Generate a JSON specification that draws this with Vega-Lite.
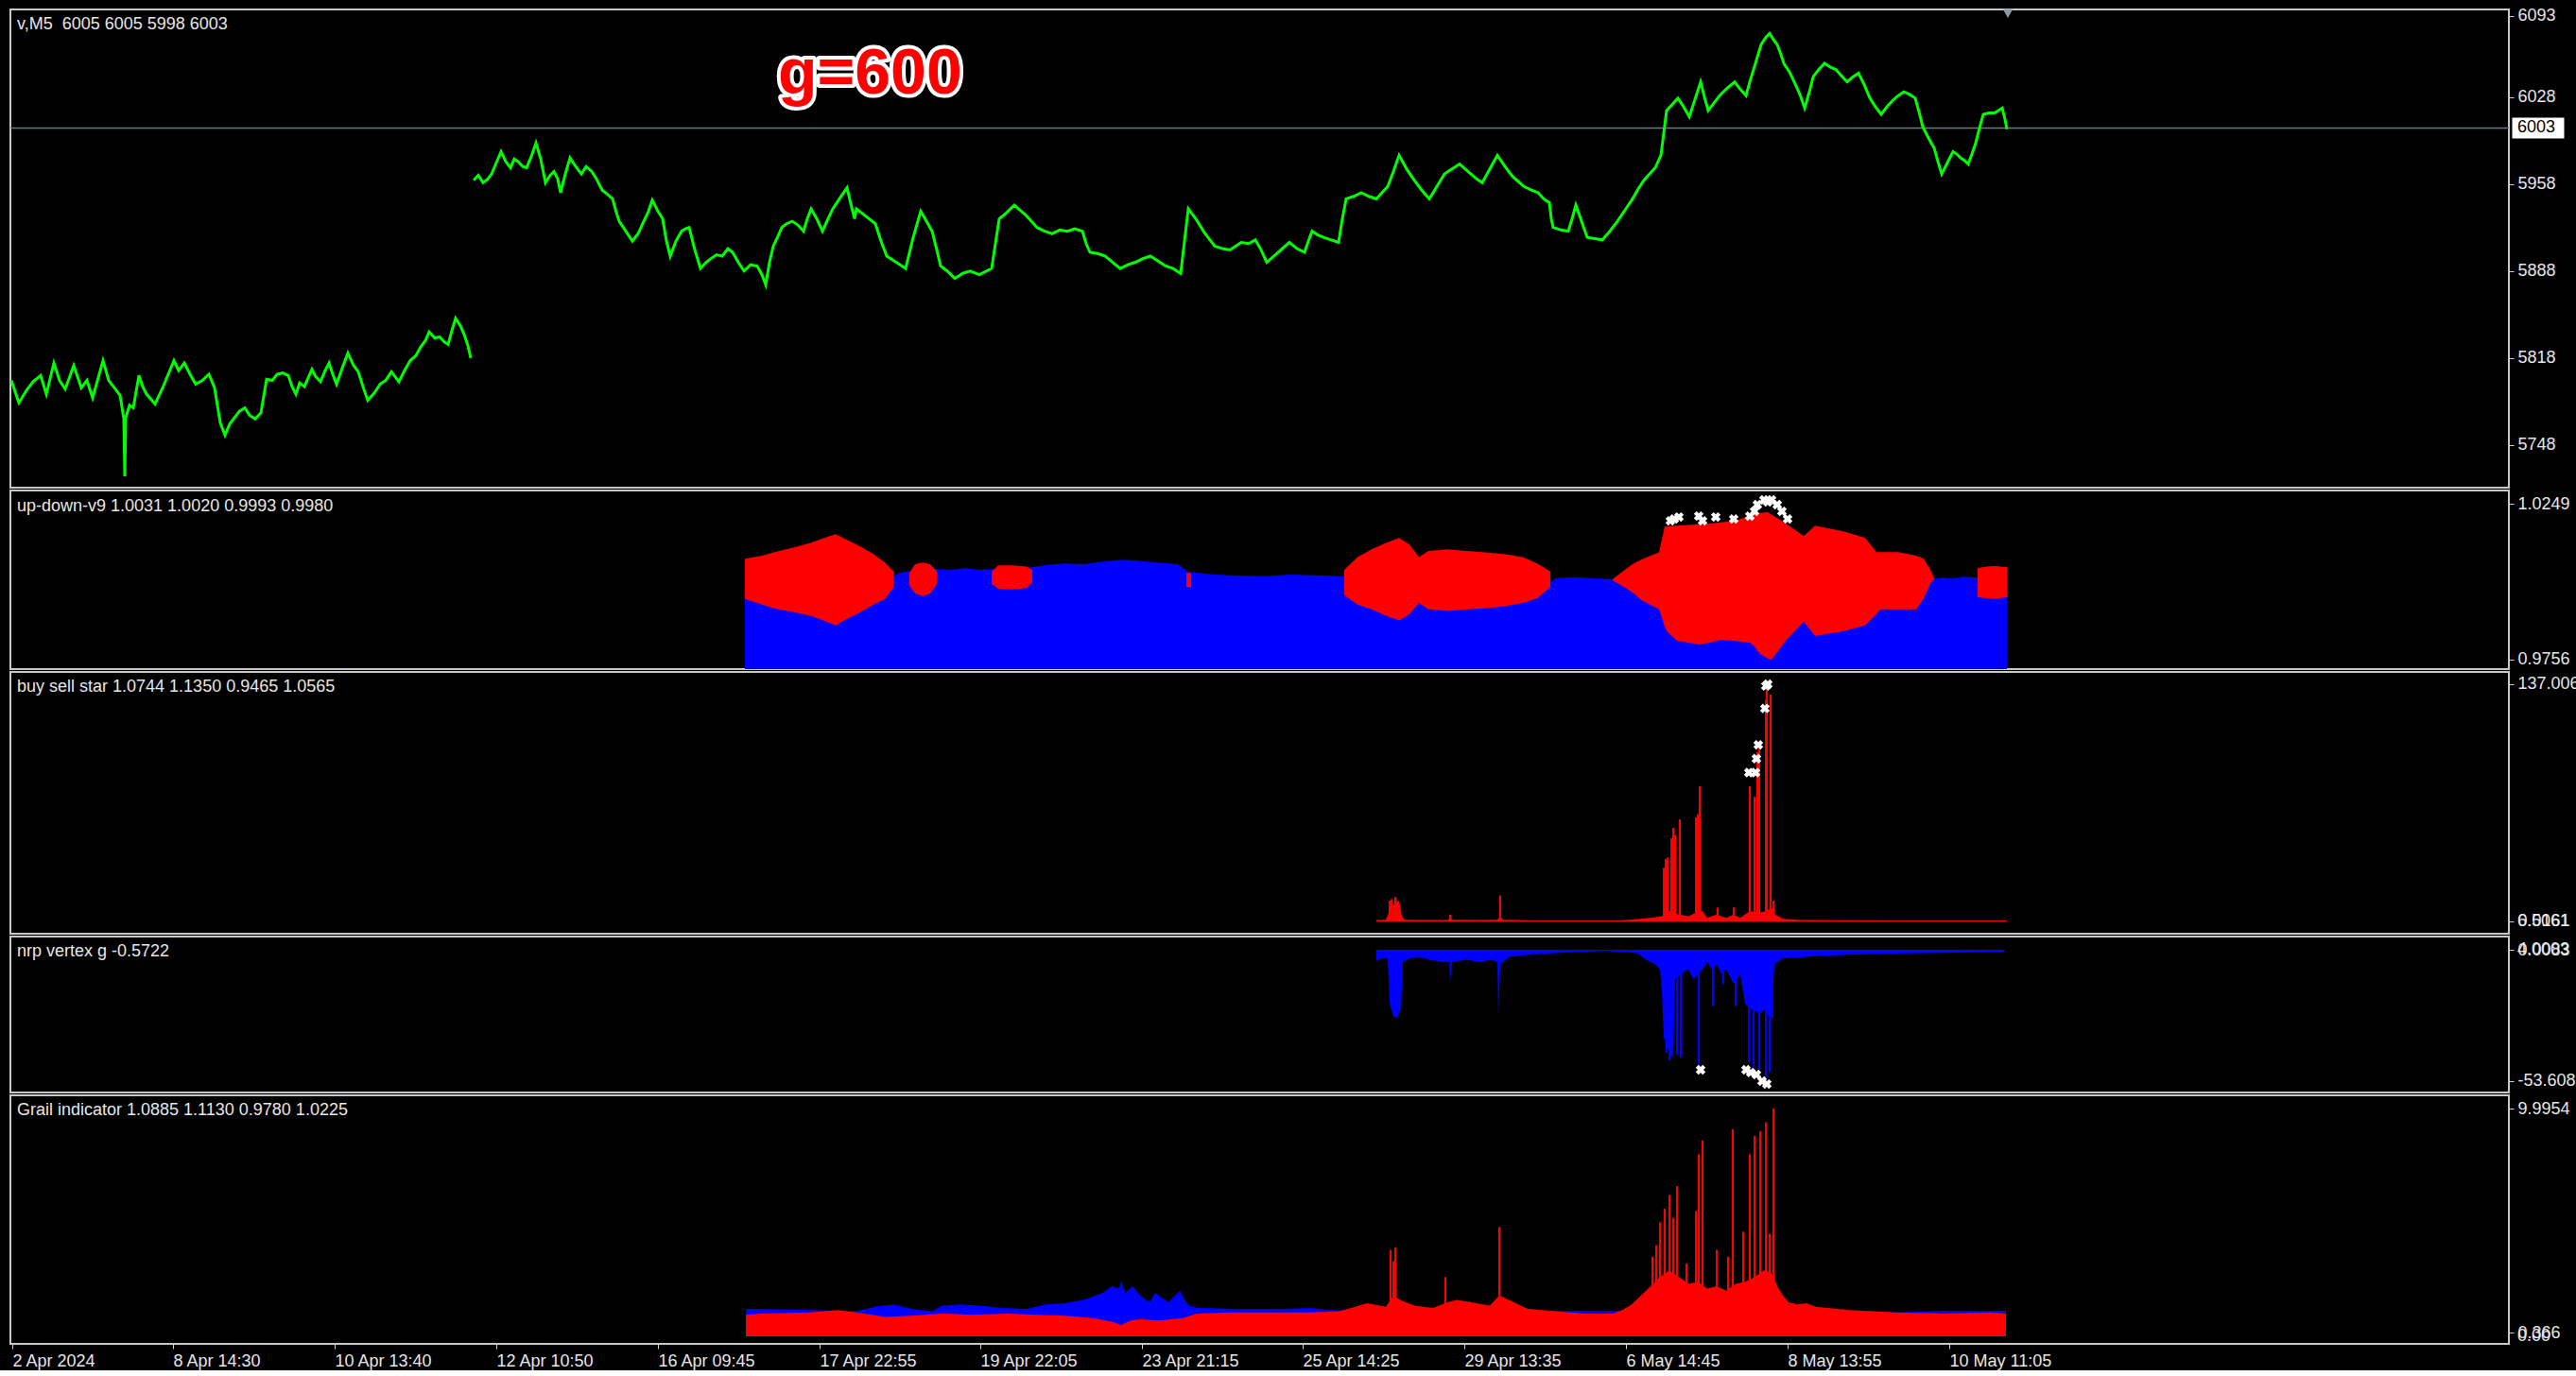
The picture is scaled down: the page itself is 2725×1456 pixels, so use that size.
{
"$schema": "https://vega.github.io/schema/vega-lite/v6.json",
"background": "#000000",
"padding": {"left": 5, "top": 6, "right": 0, "bottom": 0},
"spacing": 3,
"bounds": "flush",
"config": {
  "view": {"stroke": "#c8c8c8", "strokeWidth": 2, "fill": "#000000"},
  "axis": {"labelFont": "Liberation Sans", "labelFontSize": 18, "labelColor": "#e6e6e6", "tickColor": "#d0d0d0", "domain": false, "grid": false},
  "text": {"font": "Liberation Sans", "fontSize": 18, "align": "left", "baseline": "middle", "color": "#e6e6e6"}
},
"datasets": {
"price": [
{"t":6,"v":5800,"s":1},{"t":14,"v":5782,"s":1},{"t":22,"v":5792,"s":1},{"t":29,"v":5799,"s":1},{"t":37,"v":5804,"s":1},{"t":43,"v":5789,"s":1},{"t":51,"v":5814,"s":1},{"t":57,"v":5800,"s":1},{"t":63,"v":5793,"s":1},{"t":72,"v":5812,"s":1},{"t":80,"v":5794,"s":1},{"t":86,"v":5800,"s":1},{"t":92,"v":5786,"s":1},{"t":103,"v":5816,"s":1},{"t":109,"v":5800,"s":1},{"t":115,"v":5794,"s":1},{"t":121,"v":5788,"s":1},{"t":125,"v":5769,"s":1},{"t":126,"v":5723,"s":1},{"t":127,"v":5770,"s":1},{"t":131,"v":5780,"s":1},{"t":135,"v":5778,"s":1},{"t":141,"v":5804,"s":1},{"t":145,"v":5795,"s":1},{"t":149,"v":5789,"s":1},{"t":158,"v":5781,"s":1},{"t":166,"v":5794,"s":1},{"t":172,"v":5805,"s":1},{"t":178,"v":5816,"s":1},{"t":183,"v":5808,"s":1},{"t":189,"v":5814,"s":1},{"t":195,"v":5805,"s":1},{"t":201,"v":5797,"s":1},{"t":208,"v":5800,"s":1},{"t":215,"v":5805,"s":1},{"t":221,"v":5794,"s":1},{"t":227,"v":5766,"s":1},{"t":232,"v":5756,"s":1},{"t":237,"v":5765,"s":1},{"t":241,"v":5769,"s":1},{"t":247,"v":5775,"s":1},{"t":253,"v":5778,"s":1},{"t":258,"v":5772,"s":1},{"t":264,"v":5769,"s":1},{"t":270,"v":5774,"s":1},{"t":276,"v":5801,"s":1},{"t":282,"v":5800,"s":1},{"t":287,"v":5805,"s":1},{"t":293,"v":5806,"s":1},{"t":299,"v":5804,"s":1},{"t":303,"v":5795,"s":1},{"t":307,"v":5789,"s":1},{"t":311,"v":5798,"s":1},{"t":316,"v":5795,"s":1},{"t":320,"v":5802,"s":1},{"t":324,"v":5809,"s":1},{"t":328,"v":5803,"s":1},{"t":333,"v":5799,"s":1},{"t":338,"v":5808,"s":1},{"t":342,"v":5814,"s":1},{"t":346,"v":5805,"s":1},{"t":350,"v":5797,"s":1},{"t":356,"v":5810,"s":1},{"t":362,"v":5822,"s":1},{"t":368,"v":5812,"s":1},{"t":373,"v":5807,"s":1},{"t":378,"v":5795,"s":1},{"t":383,"v":5784,"s":1},{"t":390,"v":5790,"s":1},{"t":396,"v":5797,"s":1},{"t":402,"v":5800,"s":1},{"t":408,"v":5807,"s":1},{"t":412,"v":5803,"s":1},{"t":416,"v":5799,"s":1},{"t":422,"v":5808,"s":1},{"t":428,"v":5816,"s":1},{"t":434,"v":5820,"s":1},{"t":439,"v":5827,"s":1},{"t":444,"v":5832,"s":1},{"t":448,"v":5839,"s":1},{"t":454,"v":5834,"s":1},{"t":459,"v":5835,"s":1},{"t":464,"v":5831,"s":1},{"t":468,"v":5829,"s":1},{"t":472,"v":5840,"s":1},{"t":476,"v":5850,"s":1},{"t":481,"v":5844,"s":1},{"t":485,"v":5837,"s":1},{"t":489,"v":5828,"s":1},{"t":492,"v":5818,"s":1},
{"t":495,"v":5961,"s":2},{"t":500,"v":5965,"s":2},{"t":505,"v":5959,"s":2},{"t":510,"v":5962,"s":2},{"t":514,"v":5966,"s":2},{"t":519,"v":5975,"s":2},{"t":524,"v":5984,"s":2},{"t":529,"v":5976,"s":2},{"t":534,"v":5971,"s":2},{"t":538,"v":5978,"s":2},{"t":542,"v":5976,"s":2},{"t":547,"v":5972,"s":2},{"t":551,"v":5971,"s":2},{"t":556,"v":5980,"s":2},{"t":561,"v":5991,"s":2},{"t":566,"v":5978,"s":2},{"t":571,"v":5959,"s":2},{"t":576,"v":5965,"s":2},{"t":580,"v":5968,"s":2},{"t":584,"v":5962,"s":2},{"t":587,"v":5951,"s":2},{"t":592,"v":5966,"s":2},{"t":597,"v":5979,"s":2},{"t":603,"v":5972,"s":2},{"t":609,"v":5966,"s":2},{"t":614,"v":5972,"s":2},{"t":620,"v":5968,"s":2},{"t":625,"v":5962,"s":2},{"t":631,"v":5953,"s":2},{"t":636,"v":5950,"s":2},{"t":642,"v":5946,"s":2},{"t":646,"v":5935,"s":2},{"t":649,"v":5928,"s":2},{"t":656,"v":5920,"s":2},{"t":663,"v":5912,"s":2},{"t":669,"v":5918,"s":2},{"t":675,"v":5928,"s":2},{"t":680,"v":5936,"s":2},{"t":684,"v":5945,"s":2},{"t":690,"v":5936,"s":2},{"t":695,"v":5930,"s":2},{"t":699,"v":5912,"s":2},{"t":703,"v":5900,"s":2},{"t":709,"v":5912,"s":2},{"t":715,"v":5920,"s":2},{"t":719,"v":5922,"s":2},{"t":723,"v":5923,"s":2},{"t":729,"v":5905,"s":2},{"t":735,"v":5890,"s":2},{"t":741,"v":5895,"s":2},{"t":746,"v":5898,"s":2},{"t":752,"v":5901,"s":2},{"t":758,"v":5900,"s":2},{"t":764,"v":5906,"s":2},{"t":769,"v":5903,"s":2},{"t":775,"v":5895,"s":2},{"t":781,"v":5888,"s":2},{"t":788,"v":5893,"s":2},{"t":795,"v":5892,"s":2},{"t":800,"v":5885,"s":2},{"t":804,"v":5877,"s":2},{"t":808,"v":5895,"s":2},{"t":812,"v":5908,"s":2},{"t":817,"v":5916,"s":2},{"t":821,"v":5923,"s":2},{"t":826,"v":5926,"s":2},{"t":832,"v":5928,"s":2},{"t":838,"v":5925,"s":2},{"t":844,"v":5920,"s":2},{"t":848,"v":5930,"s":2},{"t":852,"v":5938,"s":2},{"t":858,"v":5930,"s":2},{"t":864,"v":5920,"s":2},{"t":870,"v":5930,"s":2},{"t":875,"v":5938,"s":2},{"t":882,"v":5946,"s":2},{"t":890,"v":5955,"s":2},{"t":894,"v":5942,"s":2},{"t":898,"v":5930,"s":2},{"t":900,"v":5938,"s":2},{"t":910,"v":5932,"s":2},{"t":920,"v":5926,"s":2},{"t":926,"v":5912,"s":2},{"t":932,"v":5900,"s":2},{"t":942,"v":5895,"s":2},{"t":952,"v":5890,"s":2},{"t":960,"v":5915,"s":2},{"t":968,"v":5936,"s":2},{"t":974,"v":5928,"s":2},{"t":980,"v":5920,"s":2},{"t":985,"v":5905,"s":2},{"t":989,"v":5892,"s":2},{"t":996,"v":5888,"s":2},{"t":1004,"v":5882,"s":2},{"t":1012,"v":5886,"s":2},{"t":1020,"v":5888,"s":2},{"t":1030,"v":5885,"s":2},{"t":1043,"v":5890,"s":2},{"t":1047,"v":5910,"s":2},{"t":1051,"v":5930,"s":2},{"t":1059,"v":5935,"s":2},{"t":1067,"v":5941,"s":2},{"t":1073,"v":5937,"s":2},{"t":1079,"v":5933,"s":2},{"t":1085,"v":5928,"s":2},{"t":1091,"v":5923,"s":2},{"t":1099,"v":5920,"s":2},{"t":1107,"v":5918,"s":2},{"t":1115,"v":5921,"s":2},{"t":1123,"v":5920,"s":2},{"t":1131,"v":5922,"s":2},{"t":1139,"v":5920,"s":2},{"t":1143,"v":5910,"s":2},{"t":1147,"v":5903,"s":2},{"t":1155,"v":5902,"s":2},{"t":1163,"v":5900,"s":2},{"t":1171,"v":5895,"s":2},{"t":1179,"v":5890,"s":2},{"t":1187,"v":5893,"s":2},{"t":1195,"v":5895,"s":2},{"t":1203,"v":5898,"s":2},{"t":1211,"v":5900,"s":2},{"t":1219,"v":5896,"s":2},{"t":1227,"v":5892,"s":2},{"t":1235,"v":5890,"s":2},{"t":1243,"v":5886,"s":2},{"t":1247,"v":5912,"s":2},{"t":1251,"v":5938,"s":2},{"t":1259,"v":5930,"s":2},{"t":1267,"v":5920,"s":2},{"t":1273,"v":5914,"s":2},{"t":1279,"v":5908,"s":2},{"t":1287,"v":5906,"s":2},{"t":1295,"v":5905,"s":2},{"t":1301,"v":5908,"s":2},{"t":1307,"v":5911,"s":2},{"t":1315,"v":5910,"s":2},{"t":1322,"v":5913,"s":2},{"t":1328,"v":5905,"s":2},{"t":1334,"v":5895,"s":2},{"t":1340,"v":5899,"s":2},{"t":1346,"v":5903,"s":2},{"t":1352,"v":5907,"s":2},{"t":1358,"v":5911,"s":2},{"t":1366,"v":5906,"s":2},{"t":1374,"v":5903,"s":2},{"t":1378,"v":5912,"s":2},{"t":1382,"v":5920,"s":2},{"t":1388,"v":5917,"s":2},{"t":1394,"v":5915,"s":2},{"t":1402,"v":5913,"s":2},{"t":1410,"v":5911,"s":2},{"t":1414,"v":5930,"s":2},{"t":1418,"v":5946,"s":2},{"t":1426,"v":5948,"s":2},{"t":1434,"v":5951,"s":2},{"t":1442,"v":5948,"s":2},{"t":1450,"v":5946,"s":2},{"t":1456,"v":5951,"s":2},{"t":1462,"v":5956,"s":2},{"t":1468,"v":5968,"s":2},{"t":1474,"v":5981,"s":2},{"t":1482,"v":5970,"s":2},{"t":1490,"v":5961,"s":2},{"t":1498,"v":5953,"s":2},{"t":1506,"v":5946,"s":2},{"t":1514,"v":5956,"s":2},{"t":1522,"v":5966,"s":2},{"t":1530,"v":5970,"s":2},{"t":1538,"v":5974,"s":2},{"t":1544,"v":5970,"s":2},{"t":1550,"v":5966,"s":2},{"t":1556,"v":5962,"s":2},{"t":1562,"v":5959,"s":2},{"t":1570,"v":5970,"s":2},{"t":1578,"v":5981,"s":2},{"t":1586,"v":5972,"s":2},{"t":1594,"v":5964,"s":2},{"t":1600,"v":5960,"s":2},{"t":1606,"v":5956,"s":2},{"t":1614,"v":5953,"s":2},{"t":1621,"v":5951,"s":2},{"t":1627,"v":5946,"s":2},{"t":1633,"v":5943,"s":2},{"t":1635,"v":5930,"s":2},{"t":1637,"v":5923,"s":2},{"t":1645,"v":5921,"s":2},{"t":1653,"v":5920,"s":2},{"t":1657,"v":5930,"s":2},{"t":1661,"v":5941,"s":2},{"t":1667,"v":5928,"s":2},{"t":1673,"v":5915,"s":2},{"t":1681,"v":5914,"s":2},{"t":1689,"v":5913,"s":2},{"t":1697,"v":5920,"s":2},{"t":1705,"v":5928,"s":2},{"t":1713,"v":5937,"s":2},{"t":1721,"v":5946,"s":2},{"t":1727,"v":5954,"s":2},{"t":1733,"v":5961,"s":2},{"t":1739,"v":5966,"s":2},{"t":1745,"v":5971,"s":2},{"t":1748,"v":5976,"s":2},{"t":1751,"v":5981,"s":2},{"t":1754,"v":5999,"s":2},{"t":1757,"v":6017,"s":2},{"t":1763,"v":6022,"s":2},{"t":1769,"v":6027,"s":2},{"t":1775,"v":6020,"s":2},{"t":1781,"v":6012,"s":2},{"t":1787,"v":6026,"s":2},{"t":1793,"v":6040,"s":2},{"t":1797,"v":6028,"s":2},{"t":1801,"v":6017,"s":2},{"t":1807,"v":6023,"s":2},{"t":1813,"v":6029,"s":2},{"t":1821,"v":6035,"s":2},{"t":1829,"v":6040,"s":2},{"t":1835,"v":6034,"s":2},{"t":1841,"v":6029,"s":2},{"t":1845,"v":6040,"s":2},{"t":1849,"v":6050,"s":2},{"t":1853,"v":6060,"s":2},{"t":1857,"v":6070,"s":2},{"t":1862,"v":6076,"s":2},{"t":1866,"v":6079,"s":2},{"t":1870,"v":6074,"s":2},{"t":1874,"v":6070,"s":2},{"t":1878,"v":6062,"s":2},{"t":1881,"v":6055,"s":2},{"t":1887,"v":6048,"s":2},{"t":1892,"v":6040,"s":2},{"t":1898,"v":6030,"s":2},{"t":1903,"v":6019,"s":2},{"t":1908,"v":6032,"s":2},{"t":1912,"v":6044,"s":2},{"t":1918,"v":6050,"s":2},{"t":1924,"v":6055,"s":2},{"t":1930,"v":6052,"s":2},{"t":1936,"v":6050,"s":2},{"t":1942,"v":6045,"s":2},{"t":1948,"v":6040,"s":2},{"t":1954,"v":6044,"s":2},{"t":1960,"v":6047,"s":2},{"t":1966,"v":6038,"s":2},{"t":1972,"v":6027,"s":2},{"t":1978,"v":6020,"s":2},{"t":1984,"v":6014,"s":2},{"t":1990,"v":6020,"s":2},{"t":1996,"v":6025,"s":2},{"t":2002,"v":6029,"s":2},{"t":2008,"v":6032,"s":2},{"t":2014,"v":6030,"s":2},{"t":2020,"v":6027,"s":2},{"t":2024,"v":6016,"s":2},{"t":2028,"v":6004,"s":2},{"t":2034,"v":5995,"s":2},{"t":2040,"v":5987,"s":2},{"t":2044,"v":5976,"s":2},{"t":2048,"v":5966,"s":2},{"t":2054,"v":5975,"s":2},{"t":2060,"v":5984,"s":2},{"t":2064,"v":5982,"s":2},{"t":2068,"v":5979,"s":2},{"t":2072,"v":5977,"s":2},{"t":2076,"v":5974,"s":2},{"t":2080,"v":5982,"s":2},{"t":2084,"v":5991,"s":2},{"t":2088,"v":6003,"s":2},{"t":2092,"v":6014,"s":2},{"t":2098,"v":6015,"s":2},{"t":2104,"v":6015,"s":2},{"t":2108,"v":6017,"s":2},{"t":2112,"v":6019,"s":2},{"t":2115,"v":6010,"s":2},{"t":2117,"v":6002,"s":2}
],
"udBlue": [
{"t":782,"v":1.0},{"t":817,"v":1.0},{"t":852,"v":1.0},{"t":878,"v":1.0},{"t":904,"v":1.0},{"t":930,"v":1.0},{"t":945,"v":1.003},{"t":956,"v":1.0036},{"t":970,"v":1.004},{"t":985,"v":1.0042},{"t":1000,"v":1.004},{"t":1015,"v":1.0045},{"t":1030,"v":1.004},{"t":1043,"v":1.0042},{"t":1060,"v":1.004},{"t":1086,"v":1.0048},{"t":1100,"v":1.0055},{"t":1120,"v":1.006},{"t":1140,"v":1.0058},{"t":1160,"v":1.0066},{"t":1180,"v":1.0072},{"t":1200,"v":1.0068},{"t":1220,"v":1.0062},{"t":1240,"v":1.0058},{"t":1250,"v":1.0035},{"t":1260,"v":1.003},{"t":1280,"v":1.0025},{"t":1300,"v":1.0022},{"t":1330,"v":1.002},{"t":1360,"v":1.0025},{"t":1390,"v":1.0022},{"t":1416,"v":1.002},{"t":1500,"v":1.0},{"t":1634,"v":1.0},{"t":1640,"v":1.0014},{"t":1660,"v":1.0017},{"t":1680,"v":1.0013},{"t":1700,"v":1.001},{"t":1715,"v":1.0},{"t":1800,"v":1.0},{"t":1900,"v":1.0},{"t":2036,"v":1.0},{"t":2040,"v":1.0012},{"t":2050,"v":1.0015},{"t":2060,"v":1.0012},{"t":2070,"v":1.0018},{"t":2086,"v":1.0015},{"t":2100,"v":1.0},{"t":2117,"v":1.0}
],
"udRed": [
{"t":782,"v2":0.9948,"v":1.0075,"s":1},{"t":800,"v2":0.993,"v":1.0085,"s":1},{"t":817,"v2":0.9915,"v":1.0099,"s":1},{"t":835,"v2":0.9905,"v":1.0112,"s":1},{"t":852,"v2":0.9894,"v":1.0126,"s":1},{"t":865,"v2":0.988,"v":1.014,"s":1},{"t":878,"v2":0.9864,"v":1.0153,"s":1},{"t":890,"v2":0.9885,"v":1.0135,"s":1},{"t":904,"v2":0.9906,"v":1.0114,"s":1},{"t":918,"v2":0.993,"v":1.009,"s":1},{"t":930,"v2":0.9948,"v":1.0063,"s":1},{"t":939,"v2":0.9984,"v":1.0036,"s":1},
{"t":956,"v2":0.999,"v":1.003,"s":2},{"t":962,"v2":0.9965,"v":1.0058,"s":2},{"t":970,"v2":0.9957,"v":1.0063,"s":2},{"t":978,"v2":0.9965,"v":1.0058,"s":2},{"t":985,"v2":0.9995,"v":1.0035,"s":2},
{"t":1043,"v2":0.9995,"v":1.0035,"s":3},{"t":1050,"v2":0.998,"v":1.0054,"s":3},{"t":1065,"v2":0.9978,"v":1.0054,"s":3},{"t":1080,"v2":0.9982,"v":1.005,"s":3},{"t":1086,"v2":1.0,"v":1.004,"s":3},
{"t":1249,"v2":0.9985,"v":1.003,"s":4},{"t":1254,"v2":0.9985,"v":1.003,"s":4},
{"t":1416,"v2":0.996,"v":1.004,"s":5},{"t":1430,"v2":0.993,"v":1.008,"s":5},{"t":1445,"v2":0.9915,"v":1.0105,"s":5},{"t":1460,"v2":0.9895,"v":1.0125,"s":5},{"t":1474,"v2":0.988,"v":1.0141,"s":5},{"t":1485,"v2":0.99,"v":1.012,"s":5},{"t":1495,"v2":0.9935,"v":1.008,"s":5},{"t":1505,"v2":0.9915,"v":1.01,"s":5},{"t":1525,"v2":0.991,"v":1.0105,"s":5},{"t":1545,"v2":0.9915,"v":1.01,"s":5},{"t":1565,"v2":0.9918,"v":1.0095,"s":5},{"t":1585,"v2":0.9925,"v":1.009,"s":5},{"t":1605,"v2":0.9935,"v":1.008,"s":5},{"t":1620,"v2":0.995,"v":1.006,"s":5},{"t":1634,"v2":0.9985,"v":1.0035,"s":5},
{"t":1700,"v2":1.0006,"v":1.0011,"s":6},{"t":1715,"v2":0.998,"v":1.0045,"s":6},{"t":1722,"v2":0.9966,"v":1.006,"s":6},{"t":1730,"v2":0.9945,"v":1.0072,"s":6},{"t":1749,"v2":0.9915,"v":1.0096,"s":6},{"t":1755,"v2":0.986,"v":1.0177,"s":6},{"t":1757,"v2":0.9846,"v":1.0178,"s":6},{"t":1768,"v2":0.9816,"v":1.018,"s":6},{"t":1791,"v2":0.9804,"v":1.0184,"s":6},{"t":1803,"v2":0.981,"v":1.0186,"s":6},{"t":1814,"v2":0.9819,"v":1.019,"s":6},{"t":1830,"v2":0.9815,"v":1.0195,"s":6},{"t":1845,"v2":0.981,"v":1.0212,"s":6},{"t":1849,"v2":0.98,"v":1.0216,"s":6},{"t":1856,"v2":0.9774,"v":1.022,"s":6},{"t":1864,"v2":0.976,"v":1.0222,"s":6},{"t":1868,"v2":0.9756,"v":1.0215,"s":6},{"t":1883,"v2":0.9816,"v":1.0186,"s":6},{"t":1902,"v2":0.9876,"v":1.0147,"s":6},{"t":1914,"v2":0.9831,"v":1.018,"s":6},{"t":1944,"v2":0.9846,"v":1.0162,"s":6},{"t":1967,"v2":0.9864,"v":1.0141,"s":6},{"t":1979,"v2":0.99,"v":1.0096,"s":6},{"t":1983,"v2":0.9915,"v":1.0096,"s":6},{"t":2002,"v2":0.9915,"v":1.0096,"s":6},{"t":2021,"v2":0.9915,"v":1.0085,"s":6},{"t":2029,"v2":0.995,"v":1.0075,"s":6},{"t":2036,"v2":0.9997,"v":1.004,"s":6},{"t":2040,"v2":1.001,"v":1.0015,"s":6},
{"t":2086,"v2":0.9954,"v":1.0045,"s":7},{"t":2095,"v2":0.995,"v":1.005,"s":7},{"t":2105,"v2":0.9948,"v":1.0052,"s":7},{"t":2117,"v2":0.9954,"v":1.0048,"s":7}
],
"udX": [
{"t":1761,"v":1.0195},{"t":1765,"v":1.0201},{"t":1770,"v":1.0207},{"t":1791,"v":1.021},{"t":1795,"v":1.0195},{"t":1809,"v":1.0207},{"t":1828,"v":1.0201},{"t":1845,"v":1.021},{"t":1850,"v":1.0225},{"t":1853,"v":1.0246},{"t":1860,"v":1.0261},{"t":1864,"v":1.0255},{"t":1868,"v":1.0261},{"t":1874,"v":1.0246},{"t":1879,"v":1.0225},{"t":1885,"v":1.0201}
],
"bsBase": [
{"t":1450,"v":0.8},{"t":1460,"v":1.0},{"t":1463,"v":5},{"t":1466,"v":8},{"t":1470,"v":11},{"t":1474,"v":12},{"t":1477,"v":3},{"t":1480,"v":1},{"t":1500,"v":0.8},{"t":1526,"v":0.8},{"t":1528,"v":3},{"t":1530,"v":1},{"t":1560,"v":0.8},{"t":1578,"v":1},{"t":1581,"v":3},{"t":1584,"v":1},{"t":1620,"v":0.5},{"t":1700,"v":0.5},{"t":1715,"v":0.8},{"t":1730,"v":1.5},{"t":1745,"v":2.5},{"t":1752,"v":3},{"t":1760,"v":6},{"t":1770,"v":4},{"t":1780,"v":3},{"t":1788,"v":5},{"t":1795,"v":6},{"t":1800,"v":2},{"t":1810,"v":4},{"t":1820,"v":2},{"t":1828,"v":4},{"t":1835,"v":2},{"t":1845,"v":6},{"t":1855,"v":5},{"t":1862,"v":6},{"t":1868,"v":8},{"t":1872,"v":4},{"t":1880,"v":1.5},{"t":1900,"v":0.8},{"t":2000,"v":0.6},{"t":2117,"v":0.6}
],
"bsSpike": [
{"t":1464,"v":12},{"t":1466,"v":13},{"t":1470,"v":14},{"t":1528,"v":4},{"t":1581,"v":15},{"t":1754,"v":31},{"t":1756,"v":36},{"t":1758,"v":37},{"t":1762,"v":48},{"t":1764,"v":54},{"t":1766,"v":50},{"t":1771,"v":59},{"t":1788,"v":60},{"t":1790,"v":62},{"t":1792,"v":78},{"t":1811,"v":8},{"t":1828,"v":8},{"t":1845,"v":78},{"t":1850,"v":72},{"t":1853,"v":98},{"t":1855,"v":100},{"t":1862,"v":128},{"t":1863,"v":137},{"t":1867,"v":131},{"t":1870,"v":12}
],
"bsX": [
{"t":1844,"v":86},{"t":1851,"v":86},{"t":1852,"v":94},{"t":1854,"v":102},{"t":1861,"v":123},{"t":1862,"v":136},{"t":1864,"v":137}
],
"nvBase": [
{"t":1450,"v":-4.6},{"t":1456,"v":-3.5},{"t":1462,"v":-3.5},{"t":1464,"v":-22},{"t":1468,"v":-27},{"t":1472,"v":-28},{"t":1476,"v":-24},{"t":1478,"v":-5},{"t":1485,"v":-3.5},{"t":1495,"v":-3},{"t":1505,"v":-4},{"t":1520,"v":-5},{"t":1527,"v":-5},{"t":1528,"v":-13},{"t":1530,"v":-5},{"t":1545,"v":-4},{"t":1560,"v":-5},{"t":1572,"v":-4},{"t":1578,"v":-5},{"t":1579,"v":-28},{"t":1581,"v":-6},{"t":1590,"v":-3},{"t":1610,"v":-2},{"t":1630,"v":-1.5},{"t":1660,"v":-1},{"t":1690,"v":-0.5},{"t":1715,"v":-1},{"t":1727,"v":-1.5},{"t":1735,"v":-4},{"t":1745,"v":-6},{"t":1750,"v":-8},{"t":1752,"v":-17},{"t":1754,"v":-36},{"t":1760,"v":-42},{"t":1764,"v":-44},{"t":1766,"v":-12},{"t":1775,"v":-9},{"t":1780,"v":-8},{"t":1785,"v":-12},{"t":1790,"v":-10},{"t":1795,"v":-8},{"t":1800,"v":-5},{"t":1805,"v":-8},{"t":1810,"v":-6},{"t":1815,"v":-10},{"t":1820,"v":-8},{"t":1828,"v":-14},{"t":1835,"v":-10},{"t":1840,"v":-22},{"t":1845,"v":-24},{"t":1850,"v":-25},{"t":1856,"v":-26},{"t":1862,"v":-24},{"t":1867,"v":-30},{"t":1871,"v":-6},{"t":1880,"v":-3.5},{"t":1900,"v":-3},{"t":1920,"v":-2.5},{"t":1950,"v":-2},{"t":2000,"v":-1.5},{"t":2050,"v":-1.2},{"t":2100,"v":-1},{"t":2114,"v":-0.8}
],
"nvSpike": [
{"t":1757,"v":-42},{"t":1759,"v":-40},{"t":1760,"v":-45},{"t":1762,"v":-43},{"t":1768,"v":-43},{"t":1772,"v":-44},{"t":1791,"v":-48},{"t":1806,"v":-23},{"t":1817,"v":-14},{"t":1830,"v":-23},{"t":1844,"v":-46},{"t":1849,"v":-48},{"t":1855,"v":-49},{"t":1862,"v":-52},{"t":1866,"v":-50},{"t":1869,"v":-28}
],
"nvX": [
{"t":1793,"v":-49.0},{"t":1841,"v":-49.0},{"t":1846,"v":-50.1},{"t":1852,"v":-50.9},{"t":1858,"v":-53.6},{"t":1863,"v":-54.8}
],
"grBlue": [
{"t":783,"v":1.2},{"t":800,"v":1.2},{"t":850,"v":1.15},{"t":900,"v":1.1},{"t":920,"v":1.3},{"t":940,"v":1.4},{"t":958,"v":1.2},{"t":980,"v":1.1},{"t":990,"v":1.35},{"t":1010,"v":1.4},{"t":1030,"v":1.35},{"t":1054,"v":1.25},{"t":1080,"v":1.2},{"t":1100,"v":1.4},{"t":1120,"v":1.45},{"t":1140,"v":1.6},{"t":1160,"v":1.9},{"t":1170,"v":2.2},{"t":1178,"v":2.1},{"t":1180,"v":2.45},{"t":1184,"v":1.9},{"t":1192,"v":2.2},{"t":1200,"v":1.8},{"t":1210,"v":1.5},{"t":1216,"v":1.9},{"t":1230,"v":1.5},{"t":1242,"v":2.0},{"t":1250,"v":1.4},{"t":1260,"v":1.25},{"t":1300,"v":1.2},{"t":1350,"v":1.2},{"t":1380,"v":1.25},{"t":1400,"v":1.15},{"t":1450,"v":1.1},{"t":1500,"v":1.1},{"t":1600,"v":1.1},{"t":1666,"v":1.12},{"t":1695,"v":1.12},{"t":1750,"v":1.1},{"t":2000,"v":1.05},{"t":2050,"v":1.12},{"t":2116,"v":1.12}
],
"grRed": [
{"t":783,"v":0.95},{"t":800,"v":1.0},{"t":850,"v":1.05},{"t":880,"v":1.15},{"t":900,"v":1.05},{"t":930,"v":0.85},{"t":958,"v":0.9},{"t":990,"v":1.0},{"t":1020,"v":0.95},{"t":1060,"v":1.0},{"t":1090,"v":0.95},{"t":1120,"v":0.9},{"t":1150,"v":0.8},{"t":1170,"v":0.65},{"t":1180,"v":0.5},{"t":1190,"v":0.7},{"t":1200,"v":0.75},{"t":1220,"v":0.7},{"t":1245,"v":0.8},{"t":1260,"v":1.0},{"t":1300,"v":1.05},{"t":1340,"v":1.05},{"t":1380,"v":1.05},{"t":1410,"v":1.1},{"t":1420,"v":1.2},{"t":1440,"v":1.45},{"t":1460,"v":1.3},{"t":1468,"v":1.8},{"t":1475,"v":1.6},{"t":1490,"v":1.35},{"t":1510,"v":1.25},{"t":1525,"v":1.5},{"t":1535,"v":1.6},{"t":1550,"v":1.5},{"t":1570,"v":1.35},{"t":1580,"v":1.8},{"t":1590,"v":1.6},{"t":1610,"v":1.2},{"t":1640,"v":1.1},{"t":1670,"v":1.0},{"t":1700,"v":1.0},{"t":1710,"v":1.15},{"t":1720,"v":1.4},{"t":1730,"v":1.8},{"t":1740,"v":2.2},{"t":1750,"v":2.6},{"t":1760,"v":2.9},{"t":1770,"v":2.6},{"t":1780,"v":2.3},{"t":1790,"v":2.4},{"t":1800,"v":2.1},{"t":1810,"v":2.2},{"t":1820,"v":2.0},{"t":1830,"v":2.3},{"t":1840,"v":2.4},{"t":1850,"v":2.6},{"t":1860,"v":2.9},{"t":1868,"v":2.8},{"t":1874,"v":2.2},{"t":1880,"v":1.8},{"t":1886,"v":1.5},{"t":1895,"v":1.4},{"t":1905,"v":1.45},{"t":1915,"v":1.3},{"t":1950,"v":1.15},{"t":2000,"v":1.05},{"t":2050,"v":1.0},{"t":2100,"v":1.05},{"t":2116,"v":1.0}
],
"grSpike": [
{"t":1465,"v":3.8},{"t":1468,"v":3.3},{"t":1470,"v":3.9},{"t":1523,"v":2.6},{"t":1580,"v":4.8},{"t":1742,"v":3.5},{"t":1746,"v":4.0},{"t":1750,"v":5.0},{"t":1755,"v":5.6},{"t":1760,"v":6.2},{"t":1764,"v":5.2},{"t":1768,"v":6.6},{"t":1778,"v":3.2},{"t":1788,"v":5.5},{"t":1791,"v":8.0},{"t":1795,"v":8.6},{"t":1810,"v":3.8},{"t":1822,"v":3.5},{"t":1827,"v":9.1},{"t":1838,"v":4.6},{"t":1845,"v":8.0},{"t":1850,"v":8.8},{"t":1856,"v":9.0},{"t":1862,"v":9.4},{"t":1866,"v":4.5},{"t":1870,"v":10.0}
]
},
"vconcat": [
{
 "width": 2643, "height": 506,
 "layer": [
  {"data": {"values": [{"k": 1}]}, "mark": {"type": "rule", "color": "#6f7a86", "strokeWidth": 1.5},
   "encoding": {
     "x": {"datum": 5, "type": "quantitative", "scale": {"domain": [5, 2648], "nice": false, "zero": false}, "axis": null},
     "x2": {"datum": 2648},
     "y": {"datum": 6003, "type": "quantitative", "scale": {"domain": [5713.8, 6098.3], "nice": false, "zero": false}, "axis": {"orient": "right", "title": null, "values": [5748, 5818, 5888, 5958, 6028, 6093], "format": "d", "tickSize": 5, "labelPadding": 4, "labelFlush": false, "labelOverlap": false, "labelBaseline": "middle"}}}},
  {"data": {"name": "price"}, "mark": {"type": "line", "color": "#00ff00", "strokeWidth": 3},
   "encoding": {"x": {"field": "t", "type": "quantitative", "axis": null}, "y": {"field": "v", "type": "quantitative"}, "detail": {"field": "s"}}},
  {"data": {"values": [{"label": "v,M5\u00a0\u00a06005 6005 5998 6003"}]}, "mark": {"type": "text"},
   "encoding": {"x": {"datum": 12, "type": "quantitative", "axis": null}, "y": {"datum": 6086.1, "type": "quantitative"}, "text": {"field": "label"}}},
  {"data": {"values": [{"label": "g=600"}]}, "mark": {"type": "text", "fontSize": 68, "fontWeight": "bold", "baseline": "alphabetic", "fill": "#ffffff", "stroke": "#ffffff", "strokeWidth": 8, "strokeJoin": "round"},
   "encoding": {"x": {"datum": 817, "type": "quantitative", "axis": null}, "y": {"datum": 6031, "type": "quantitative"}, "text": {"field": "label"}}},
  {"data": {"values": [{"label": "g=600"}]}, "mark": {"type": "text", "fontSize": 68, "fontWeight": "bold", "baseline": "alphabetic", "fill": "#ff0000"},
   "encoding": {"x": {"datum": 817, "type": "quantitative", "axis": null}, "y": {"datum": 6031, "type": "quantitative"}, "text": {"field": "label"}}},
  {"data": {"values": [{"k": 1}]}, "mark": {"type": "point", "shape": "triangle-down", "filled": true, "color": "#8898a8", "size": 110, "opacity": 1},
   "encoding": {"x": {"datum": 2118, "type": "quantitative", "axis": null}, "y": {"datum": 6095, "type": "quantitative"}}},
  {"data": {"values": [{"k": 1}]}, "mark": {"type": "point", "shape": "M-1,-0.4L1,-0.4L1,0.4L-1,0.4Z", "filled": true, "color": "#ffffff", "size": 3025, "opacity": 1},
   "encoding": {"x": {"datum": 2679, "type": "quantitative", "axis": null}, "y": {"datum": 6003, "type": "quantitative"}}},
  {"data": {"values": [{"label": "6003"}]}, "mark": {"type": "text", "color": "#000000"},
   "encoding": {"x": {"datum": 2657, "type": "quantitative", "axis": null}, "y": {"datum": 6003, "type": "quantitative"}, "text": {"field": "label"}}}
 ]
},
{
 "width": 2643, "height": 189,
 "layer": [
  {"data": {"name": "udBlue"}, "mark": {"type": "area", "color": "#0000ff", "opacity": 1},
   "encoding": {
     "x": {"field": "t", "type": "quantitative", "scale": {"domain": [5, 2648], "nice": false, "zero": false}, "axis": null},
     "y": {"field": "v", "type": "quantitative", "scale": {"domain": [0.9726, 1.0291], "nice": false, "zero": false}, "axis": {"orient": "right", "title": null, "values": [0.9756, 1.0249], "format": ".4f", "tickSize": 5, "labelPadding": 4, "labelFlush": false, "labelOverlap": false, "labelBaseline": "middle"}},
     "y2": {"datum": 0.9726}}},
  {"data": {"name": "udRed"}, "mark": {"type": "area", "color": "#ff0000", "opacity": 1},
   "encoding": {"x": {"field": "t", "type": "quantitative", "axis": null}, "y": {"field": "v", "type": "quantitative"}, "y2": {"field": "v2"}, "detail": {"field": "s"}}},
  {"data": {"name": "udX"}, "mark": {"type": "point", "shape": "cross", "angle": 45, "filled": true, "color": "#ffffff", "size": 110, "opacity": 1},
   "encoding": {"x": {"field": "t", "type": "quantitative", "axis": null}, "y": {"field": "v", "type": "quantitative"}}},
  {"data": {"values": [{"label": "up-down-v9 1.0031 1.0020 0.9993 0.9980"}]}, "mark": {"type": "text"},
   "encoding": {"x": {"datum": 12, "type": "quantitative", "axis": null}, "y": {"datum": 1.024, "type": "quantitative"}, "text": {"field": "label"}}}
 ]
},
{
 "width": 2643, "height": 277,
 "layer": [
  {"data": {"name": "bsBase"}, "mark": {"type": "area", "color": "#ff0000", "opacity": 1},
   "encoding": {
     "x": {"field": "t", "type": "quantitative", "scale": {"domain": [5, 2648], "nice": false, "zero": false}, "axis": null},
     "y": {"field": "v", "type": "quantitative", "scale": {"domain": [-7.1, 144.1], "nice": false, "zero": false}, "axis": {"orient": "right", "title": null, "values": [0.0161, 137.006], "labelExpr": "datum.value > 1 ? '137.006' : '0.0161'", "tickSize": 5, "labelPadding": 4, "labelFlush": false, "labelOverlap": false, "labelBaseline": "middle"}},
     "y2": {"datum": 0}}},
  {"data": {"name": "bsSpike"}, "mark": {"type": "rule", "color": "#ff0000", "strokeWidth": 2},
   "encoding": {"x": {"field": "t", "type": "quantitative", "axis": null}, "y": {"field": "v", "type": "quantitative"}, "y2": {"datum": 0}}},
  {"data": {"name": "bsX"}, "mark": {"type": "point", "shape": "cross", "angle": 45, "filled": true, "color": "#ffffff", "size": 110, "opacity": 1},
   "encoding": {"x": {"field": "t", "type": "quantitative", "axis": null}, "y": {"field": "v", "type": "quantitative"}}},
  {"data": {"values": [{"label": "buy sell star 1.0744 1.1350 0.9465 1.0565"}]}, "mark": {"type": "text"},
   "encoding": {"x": {"datum": 12, "type": "quantitative", "axis": null}, "y": {"datum": 135.4, "type": "quantitative"}, "text": {"field": "label"}}},
  {"data": {"values": [{"label": "6.5061"}]}, "mark": {"type": "text"},
   "encoding": {"x": {"datum": 2657, "type": "quantitative", "axis": null}, "y": {"datum": 0.0161, "type": "quantitative"}, "text": {"field": "label"}}}
 ]
},
{
 "width": 2643, "height": 165,
 "layer": [
  {"data": {"name": "nvBase"}, "mark": {"type": "area", "color": "#0000ff", "opacity": 1},
   "encoding": {
     "x": {"field": "t", "type": "quantitative", "scale": {"domain": [5, 2648], "nice": false, "zero": false}, "axis": null},
     "y": {"field": "v", "type": "quantitative", "scale": {"domain": [-58.24, 5.41], "nice": false, "zero": false}, "axis": {"orient": "right", "title": null, "values": [-53.6082, 0.0083], "labelExpr": "datum.value < -1 ? '-53.6082' : '0.0083'", "tickSize": 5, "labelPadding": 4, "labelFlush": false, "labelOverlap": false, "labelBaseline": "middle"}},
     "y2": {"datum": 0}}},
  {"data": {"name": "nvSpike"}, "mark": {"type": "rule", "color": "#0000ff", "strokeWidth": 2},
   "encoding": {"x": {"field": "t", "type": "quantitative", "axis": null}, "y": {"field": "v", "type": "quantitative"}, "y2": {"datum": 0}}},
  {"data": {"name": "nvX"}, "mark": {"type": "point", "shape": "cross", "angle": 45, "filled": true, "color": "#ffffff", "size": 110, "opacity": 1},
   "encoding": {"x": {"field": "t", "type": "quantitative", "axis": null}, "y": {"field": "v", "type": "quantitative"}}},
  {"data": {"values": [{"label": "nrp vertex g -0.5722"}]}, "mark": {"type": "text"},
   "encoding": {"x": {"datum": 12, "type": "quantitative", "axis": null}, "y": {"datum": -0.76, "type": "quantitative"}, "text": {"field": "label"}}},
  {"data": {"values": [{"label": "4.0003"}]}, "mark": {"type": "text"},
   "encoding": {"x": {"datum": 2657, "type": "quantitative", "axis": null}, "y": {"datum": 0.0083, "type": "quantitative"}, "text": {"field": "label"}}}
 ]
},
{
 "width": 2643, "height": 263,
 "layer": [
  {"data": {"name": "grBlue"}, "mark": {"type": "area", "color": "#0000ff", "opacity": 1},
   "encoding": {
     "x": {"field": "t", "type": "quantitative", "scale": {"domain": [5, 2648], "nice": false, "zero": false},
        "axis": {"orient": "bottom", "title": null, "values": [7, 177, 348, 519, 690, 861, 1031, 1202, 1372, 1543, 1714, 1885, 2056],
                 "labelExpr": "['2 Apr 2024','8 Apr 14:30','10 Apr 13:40','12 Apr 10:50','16 Apr 09:45','17 Apr 22:55','19 Apr 22:05','23 Apr 21:15','25 Apr 14:25','29 Apr 13:35','6 May 14:45','8 May 13:55','10 May 11:05'][indexof([7,177,348,519,690,861,1031,1202,1372,1543,1714,1885,2056], datum.value)]",
                 "labelAlign": "left", "labelBaseline": "top", "labelPadding": 4, "tickSize": 5, "labelFlush": false, "labelOverlap": false}},
     "y": {"field": "v", "type": "quantitative", "scale": {"domain": [-0.33, 10.58], "nice": false, "zero": false}, "axis": {"orient": "right", "title": null, "values": [0.15, 9.9954], "labelExpr": "datum.value < 1 ? '0.366' : '9.9954'", "tickSize": 5, "labelPadding": 4, "labelFlush": false, "labelOverlap": false, "labelBaseline": "middle"}},
     "y2": {"datum": 0}}},
  {"data": {"name": "grRed"}, "mark": {"type": "area", "color": "#ff0000", "opacity": 1},
   "encoding": {"x": {"field": "t", "type": "quantitative"}, "y": {"field": "v", "type": "quantitative"}, "y2": {"datum": 0}}},
  {"data": {"name": "grSpike"}, "mark": {"type": "rule", "color": "#ff0000", "strokeWidth": 2},
   "encoding": {"x": {"field": "t", "type": "quantitative"}, "y": {"field": "v", "type": "quantitative"}, "y2": {"datum": 0}}},
  {"data": {"values": [{"label": "Grail indicator 1.0885 1.1130 0.9780 1.0225"}]}, "mark": {"type": "text"},
   "encoding": {"x": {"datum": 12, "type": "quantitative"}, "y": {"datum": 9.92, "type": "quantitative"}, "text": {"field": "label"}}},
  {"data": {"values": [{"label": "0.00"}]}, "mark": {"type": "text"},
   "encoding": {"x": {"datum": 2657, "type": "quantitative"}, "y": {"datum": 0, "type": "quantitative"}, "text": {"field": "label"}}}
 ]
}
]
}
